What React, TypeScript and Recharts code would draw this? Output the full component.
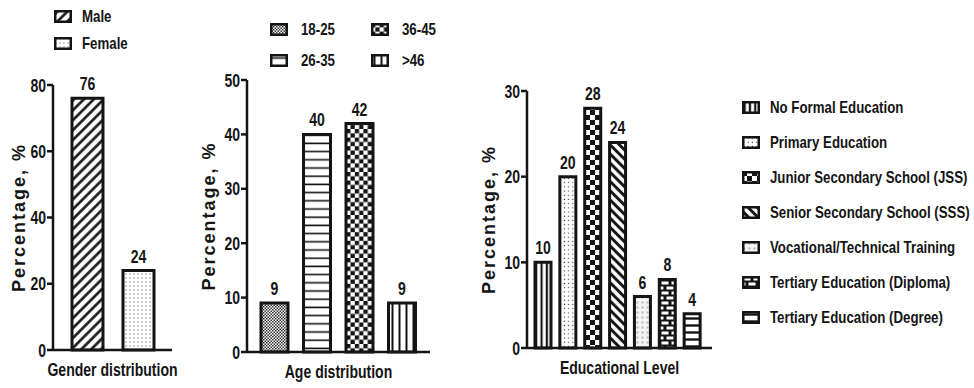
import { BarChart, Bar, XAxis, YAxis, Cell, LabelList, Legend } from 'recharts'

const FONT = "'Liberation Sans', Arial, sans-serif"
const INK = '#141414'
// no narrow face installed, so condensed text is drawn by squeezing it horizontally
const SX = 0.78

const genderCategories = ['Male', 'Female']
const genderValues = [76, 24]
const genderTicks = [0, 20, 40, 60, 80]
const genderPatterns = ['pMale', 'pFemale']

const ageCategories = ['18-25', '26-35', '36-45', '>46']
const ageValues = [9, 40, 42, 9]
const ageTicks = [0, 10, 20, 30, 40, 50]
const agePatterns = ['pFineCheck', 'pHLines', 'pCheck', 'pVLinesWide']

const eduCategories = [
  'No Formal Education',
  'Primary Education',
  'Junior Secondary School (JSS)',
  'Senior Secondary School (SSS)',
  'Vocational/Technical Training',
  'Tertiary Education (Diploma)',
  'Tertiary Education (Degree)'
]
const eduValues = [10, 20, 28, 24, 6, 8, 4]
const eduTicks = [0, 10, 20, 30]
const eduPatterns = ['pVLines', 'pDots', 'pCheckBig', 'pBackslash', 'pLight', 'pBrick', 'pHLinesThick']

function Patterns() {
  return (
    <svg width={0} height={0} style={{ position: 'absolute' }}>
      <defs>
        <pattern id="pMale" patternUnits="userSpaceOnUse" width="7" height="7" patternTransform="rotate(45)">
          <rect width="7" height="7" fill="#fff" />
          <line x1="3.5" y1="0" x2="3.5" y2="7" stroke={INK} strokeWidth="2.6" />
        </pattern>
        <pattern id="pBackslash" patternUnits="userSpaceOnUse" width="6.5" height="6.5" patternTransform="rotate(-45)">
          <rect width="6.5" height="6.5" fill="#fff" />
          <line x1="3.25" y1="0" x2="3.25" y2="6.5" stroke={INK} strokeWidth="3" />
        </pattern>
        <pattern id="pFemale" patternUnits="userSpaceOnUse" width="4" height="4">
          <rect width="4" height="4" fill="#fff" />
          <rect x="1.5" y="1.5" width="1" height="1" fill="#444" />
        </pattern>
        <pattern id="pDots" patternUnits="userSpaceOnUse" width="4.2" height="4.2">
          <rect width="4.2" height="4.2" fill="#fff" />
          <rect x="1.5" y="1.5" width="1.1" height="1.1" fill="#333" />
        </pattern>
        <pattern id="pFineCheck" patternUnits="userSpaceOnUse" width="3" height="3">
          <rect width="3" height="3" fill="#fff" />
          <rect width="1.5" height="1.5" fill="#333" />
          <rect x="1.5" y="1.5" width="1.5" height="1.5" fill="#333" />
        </pattern>
        <pattern id="pCheck" patternUnits="userSpaceOnUse" width="8.6" height="8.6">
          <rect width="8.6" height="8.6" fill="#fff" />
          <rect width="4.3" height="4.3" fill={INK} />
          <rect x="4.3" y="4.3" width="4.3" height="4.3" fill={INK} />
        </pattern>
        <pattern id="pCheckBig" patternUnits="userSpaceOnUse" width="10" height="10">
          <rect width="10" height="10" fill="#fff" />
          <rect width="5" height="5" fill={INK} />
          <rect x="5" y="5" width="5" height="5" fill={INK} />
        </pattern>
        <pattern id="pHLines" patternUnits="userSpaceOnUse" width="10" height="8.2">
          <rect width="10" height="8.2" fill="#fff" />
          <line x1="0" y1="4" x2="10" y2="4" stroke={INK} strokeWidth="1.6" />
        </pattern>
        <pattern id="pHLinesThick" patternUnits="userSpaceOnUse" width="10" height="7">
          <rect width="10" height="7" fill="#fff" />
          <line x1="0" y1="3.5" x2="10" y2="3.5" stroke={INK} strokeWidth="2.4" />
        </pattern>
        <pattern id="pVLinesWide" patternUnits="userSpaceOnUse" width="7" height="10">
          <rect width="7" height="10" fill="#fff" />
          <line x1="3.5" y1="0" x2="3.5" y2="10" stroke={INK} strokeWidth="2" />
        </pattern>
        <pattern id="pVLines" patternUnits="userSpaceOnUse" width="5.3" height="10">
          <rect width="5.3" height="10" fill="#fff" />
          <line x1="2.65" y1="0" x2="2.65" y2="10" stroke={INK} strokeWidth="2.2" />
        </pattern>
        <pattern id="pLight" patternUnits="userSpaceOnUse" width="5" height="5">
          <rect width="5" height="5" fill="#f4f4f4" />
          <circle cx="2.5" cy="2.5" r="1.3" fill="#c4c4c4" />
        </pattern>
        <pattern id="pBrick" patternUnits="userSpaceOnUse" width="10" height="10">
          <rect width="10" height="10" fill={INK} />
          <rect x="1.5" y="1.5" width="7" height="3" fill="#fff" />
          <rect x="-3.5" y="6.5" width="7" height="3" fill="#fff" />
          <rect x="6.5" y="6.5" width="7" height="3" fill="#fff" />
        </pattern>
      </defs>
    </svg>
  )
}

function NarrowText({ x, y, anchor, size, children }: { x: number; y: number; anchor: 'start' | 'middle' | 'end'; size: number; children: any }) {
  return (
    <g transform={`translate(${x},${y}) scale(${SX},1)`}>
      <text x={0} y={0} textAnchor={anchor} fill={INK} fontSize={size} fontWeight={700} fontFamily={FONT}>
        {children}
      </text>
    </g>
  )
}

function YTick(props: any) {
  const { x, y, payload } = props
  return (
    <NarrowText x={x} y={y + 6.5} anchor="end" size={18}>
      {payload.value}
    </NarrowText>
  )
}

function Swatch({ pattern }: { pattern: string }) {
  return (
    <svg width={18} height={13} style={{ flex: 'none' }}>
      <rect x={1.25} y={1.25} width={15.5} height={10.5} fill={`url(#${pattern})`} stroke={INK} strokeWidth={2.5} />
    </svg>
  )
}

function LegendBox({ labels, patterns, columns, colWidth, rowHeight, gap }: {
  labels: string[]; patterns: string[]; columns: number; colWidth: number; rowHeight: number; gap: number
}) {
  const rows = Math.ceil(labels.length / columns)
  return (
    <div
      style={{
        display: 'grid',
        gridTemplateRows: `repeat(${rows}, ${rowHeight}px)`,
        gridTemplateColumns: `repeat(${columns}, ${colWidth}px)`,
        gridAutoFlow: 'column',
        fontFamily: FONT,
        fontWeight: 700,
        fontSize: 17,
        color: INK
      }}
    >
      {labels.map((l, i) => (
        <div key={l} style={{ display: 'flex', alignItems: 'center', gap, whiteSpace: 'nowrap' }}>
          <Swatch pattern={patterns[i]} />
          <span style={{ display: 'inline-block', transform: `scaleX(${SX})`, transformOrigin: 'left center' }}>{l}</span>
        </div>
      ))}
    </div>
  )
}

interface PanelProps {
  categories: string[]
  values: number[]
  patterns: string[]
  ticks: number[]
  left: number
  width: number
  margin: { top: number; right: number; bottom: number; left: number }
  yAxisWidth: number
  xPadding: { left: number; right: number }
  barSize: number
  xLabel: string
  yLabelOffset: number
  legend: { x: number; y: number; columns: number; colWidth: number; rowHeight: number; gap: number }
}

function Panel(p: PanelProps) {
  const data = p.categories.map((name, i) => ({ name, value: p.values[i] }))
  return (
    <div style={{ position: 'absolute', left: p.left, top: 0 }}>
      <BarChart width={p.width} height={388} data={data} margin={p.margin}>
        <XAxis
          dataKey="name"
          tick={false}
          tickLine={false}
          height={30}
          padding={p.xPadding}
          axisLine={{ stroke: INK, strokeWidth: 2.5 }}
          label={(lp: any) => {
            const vb = lp.viewBox
            return (
              <NarrowText x={vb.x + vb.width / 2} y={vb.y + vb.height - 4} anchor="middle" size={18}>
                {p.xLabel}
              </NarrowText>
            )
          }}
        />
        <YAxis
          type="number"
          width={p.yAxisWidth}
          domain={[0, p.ticks[p.ticks.length - 1]]}
          ticks={p.ticks}
          interval={0}
          tickSize={6}
          tickMargin={1}
          tick={<YTick />}
          tickLine={{ stroke: INK, strokeWidth: 2.5 }}
          axisLine={{ stroke: INK, strokeWidth: 2.5 }}
          label={{
            value: 'Percentage, %',
            angle: -90,
            position: 'insideLeft',
            offset: p.yLabelOffset,
            fill: INK,
            fontSize: 18,
            fontWeight: 700,
            fontFamily: FONT,
            style: { textAnchor: 'middle', letterSpacing: 2 }
          }}
        />
        <Legend
          layout="vertical"
          align="center"
          verticalAlign="middle"
          wrapperStyle={{ left: p.legend.x, top: p.legend.y, width: 'auto', height: 'auto' }}
          content={() => (
            <LegendBox
              labels={p.categories}
              patterns={p.patterns}
              columns={p.legend.columns}
              colWidth={p.legend.colWidth}
              rowHeight={p.legend.rowHeight}
              gap={p.legend.gap}
            />
          )}
        />
        <Bar dataKey="value" barSize={p.barSize} stroke={INK} strokeWidth={3} isAnimationActive={false}>
          {data.map((d, i) => (
            <Cell key={d.name} fill={`url(#${p.patterns[i]})`} />
          ))}
          <LabelList
            dataKey="value"
            content={(lp: any) => (
              <NarrowText x={lp.x + lp.width / 2} y={lp.y - 8} anchor="middle" size={18}>
                {lp.value}
              </NarrowText>
            )}
          />
        </Bar>
      </BarChart>
    </div>
  )
}

export default function App() {
  return (
    <div style={{ position: 'absolute', left: 0, top: 0, width: 974, height: 388, background: '#fff', overflow: 'hidden' }}>
      <Patterns />
      <Panel
        categories={genderCategories}
        values={genderValues}
        patterns={genderPatterns}
        ticks={genderTicks}
        left={0}
        width={200}
        margin={{ top: 85, right: 28, bottom: 8, left: 0 }}
        yAxisWidth={53}
        xPadding={{ left: 9, right: 8 }}
        barSize={31}
        xLabel="Gender distribution"
        yLabelOffset={19}
        legend={{ x: 54, y: 3, columns: 1, colWidth: 120, rowHeight: 27, gap: 10 }}
      />
      <Panel
        categories={ageCategories}
        values={ageValues}
        patterns={agePatterns}
        ticks={ageTicks}
        left={200}
        width={260}
        margin={{ top: 80, right: 30, bottom: 6, left: 0 }}
        yAxisWidth={47}
        xPadding={{ left: 6, right: 7 }}
        barSize={27}
        xLabel="Age distribution"
        yLabelOffset={9}
        legend={{ x: 70, y: 14, columns: 2, colWidth: 101, rowHeight: 31, gap: 13 }}
      />
      <Panel
        categories={eduCategories}
        values={eduValues}
        patterns={eduPatterns}
        ticks={eduTicks}
        left={470}
        width={504}
        margin={{ top: 91, right: 262, bottom: 10, left: 0 }}
        yAxisWidth={57}
        xPadding={{ left: 4, right: 7 }}
        barSize={16}
        xLabel="Educational Level"
        yLabelOffset={19}
        legend={{ x: 272, y: 90, columns: 1, colWidth: 230, rowHeight: 35, gap: 10 }}
      />
    </div>
  )
}
